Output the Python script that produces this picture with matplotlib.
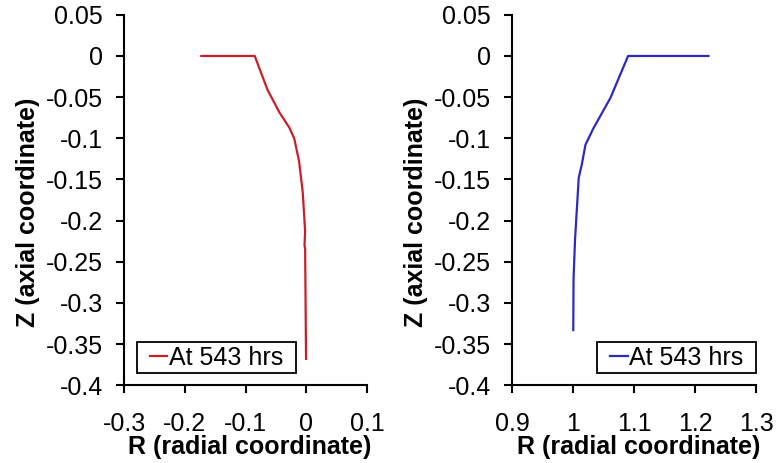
import matplotlib
matplotlib.use("Agg")
import matplotlib.pyplot as plt

plt.rcParams["font.family"] = ["Liberation Sans", "DejaVu Sans"]

# left panel: inner surface profile at 543 hrs
r_inner = [-0.173, -0.085, -0.064, -0.044, -0.028, -0.020, -0.012, -0.006, -0.002, -0.003, -0.002, -0.0005]
z_inner = [0.0, 0.0, -0.041, -0.069, -0.087, -0.100, -0.128, -0.165, -0.213, -0.230, -0.234, -0.368]

# right panel: outer surface profile at 543 hrs
r_outer = [1.222, 1.090, 1.061, 1.033, 1.020, 1.014, 1.009, 1.003, 1.0005, 1.000]
z_outer = [0.0, 0.0, -0.051, -0.088, -0.108, -0.132, -0.148, -0.222, -0.270, -0.333]

label = "At 543 hrs"
y_ticks = [0.05, 0, -0.05, -0.1, -0.15, -0.2, -0.25, -0.3, -0.35, -0.4]


def fmt(v):
    s = f"{v:g}"
    return "0" if s in ("0", "-0") else s


def style_axes(ax, xticks):
    ax.set_xlim(xticks[0], xticks[-1])
    ax.set_ylim(-0.4, 0.05)
    ax.set_xticks(xticks, [fmt(v) for v in xticks])
    ax.set_yticks(y_ticks, [fmt(v) for v in y_ticks])
    for side in ("top", "right"):
        ax.spines[side].set_visible(False)
    for side in ("left", "bottom"):
        ax.spines[side].set_linewidth(1.5)
    ax.tick_params(direction="out", length=5.5, width=1.5, labelsize=18)
    ax.tick_params(axis="y", pad=10)
    ax.tick_params(axis="x", pad=14)
    ax.set_xlabel("R (radial coordinate)", fontsize=18, fontweight="bold", labelpad=-1)
    ax.set_ylabel("Z (axial coordinate)", fontsize=18, fontweight="bold", labelpad=4)
    ax.xaxis.label.set_x(0.518)
    ax.yaxis.label.set_y(0.468)


def add_legend(ax, loc, anchor):
    leg = ax.legend(loc=loc, bbox_to_anchor=anchor, fontsize=18, handlelength=0.7,
                    handletextpad=0.05, borderpad=0.15, fancybox=False, framealpha=1,
                    borderaxespad=0)
    frame = leg.get_frame()
    frame.set_edgecolor("black")
    frame.set_linewidth(1.3)
    # wider side padding than top/bottom padding, like the original boxes
    frame.set_boxstyle("square", pad=0.36)
    frame.set_mutation_aspect(0.01)


fig = plt.figure(figsize=(7.81, 4.63), dpi=100)
ax1 = fig.add_axes([0.159, 0.168, 0.311, 0.8])
ax2 = fig.add_axes([0.656, 0.168, 0.312, 0.8])

ax1.plot(r_inner, z_inner, color="#C8202A", lw=1.6, label=label)
style_axes(ax1, [-0.3, -0.2, -0.1, 0, 0.1])
add_legend(ax1, "lower left", (0.09, 0.032))

ax2.plot(r_outer, z_outer, color="#2B2BC0", lw=1.6, label=label)
style_axes(ax2, [0.9, 1.0, 1.1, 1.2, 1.3])
add_legend(ax2, "lower right", (0.963, 0.032))

fig.savefig("out.png", dpi=100)
